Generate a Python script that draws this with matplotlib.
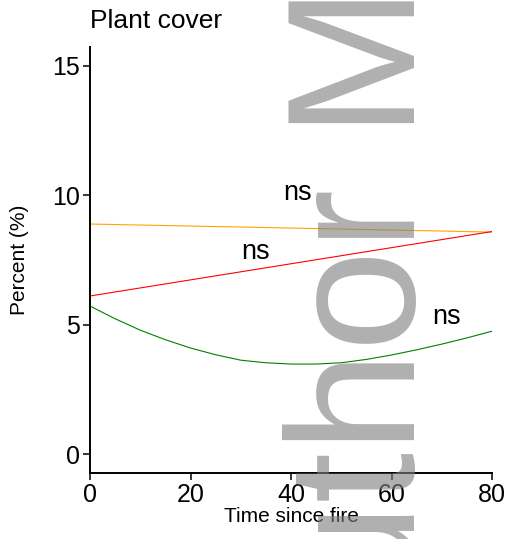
import matplotlib
matplotlib.use("Agg")
import matplotlib.pyplot as plt
import numpy as np

plt.rcParams['font.family'] = ['Liberation Sans', 'DejaVu Sans']

# fitted cover (%) against years since fire
anos_recta = [0, 80]
cobertura_naranja = [8.89, 8.58]
cobertura_roja = [6.11, 8.60]

anos_curva = [0, 5, 10, 15, 20, 25, 30, 35, 40, 45, 50, 55, 60, 65, 70, 75, 80]
cobertura_verde = [5.72, 5.23, 4.79, 4.42, 4.10, 3.84, 3.63, 3.53, 3.48, 3.48,
                   3.53, 3.66, 3.83, 4.03, 4.25, 4.49, 4.75]

# significance labels: (x, y, text)
etiquetas_x = [41.2, 33.0, 71.0]
etiquetas_y = [10.1, 7.8, 5.3]
etiquetas = ['ns', 'ns', 'ns']

xticks = [0, 20, 40, 60, 80]
yticks = [0, 5, 10, 15]

fig = plt.figure(figsize=(5.10, 5.39), dpi=100)
ax = fig.add_axes([0.1765, 0.1224, 0.7882, 0.7904])

ax.plot(anos_recta, cobertura_naranja, color='#FFA500', lw=0.8)
ax.plot(anos_recta, cobertura_roja, color='#FF0000', lw=0.8)
ax.plot(anos_curva, cobertura_verde, color='#008000', lw=0.8)

for x, y, t in zip(etiquetas_x, etiquetas_y, etiquetas):
    ax.text(x, y, t, fontsize=19.5, ha='center', va='center')

ax.set_xlim(0, 80)
ax.set_ylim(-0.73, 15.73)
ax.set_xticks(xticks)
ax.set_yticks(yticks)
ax.tick_params(labelsize=18, length=5, width=1.1, direction='out', pad=2)
for lado in ['top', 'right']:
    ax.spines[lado].set_visible(False)
for lado in ['left', 'bottom']:
    ax.spines[lado].set_linewidth(1.4)

ax.set_xlabel('Time since fire', fontsize=15, labelpad=0)
ax.set_ylabel('Percent (%)', fontsize=15, labelpad=17)
fig.text(90 / 510, 1 - 21 / 539, 'Plant cover', fontsize=19, ha='left', va='center')

# watermark over the panel
fig.text(400 / 510, 1 - 123 / 539, 'Manuscript', fontsize=131, rotation=90,
         rotation_mode='anchor', ha='left', va='baseline',
         color='#808080', alpha=0.62, zorder=10)
fig.text(415 / 510, 1 - 188 / 539, 'Author', fontsize=131, rotation=90,
         rotation_mode='anchor', ha='right', va='baseline',
         color='#808080', alpha=0.62, zorder=10)

fig.savefig('out.png', dpi=100)
